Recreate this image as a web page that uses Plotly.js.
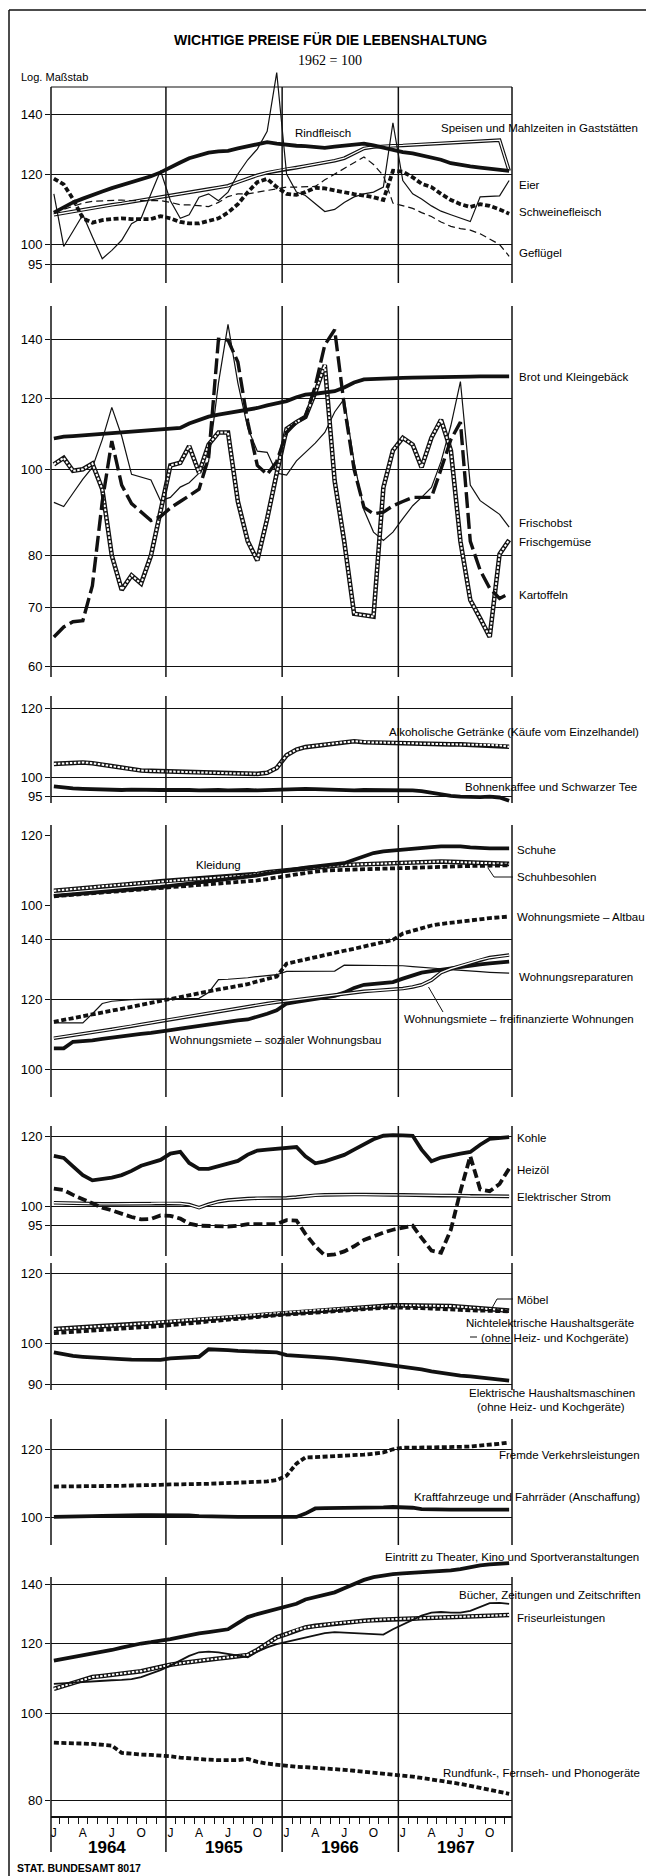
<!DOCTYPE html>
<html><head><meta charset="utf-8">
<script src="https://cdn.plot.ly/plotly-3.0.1.min.js"></script>
<style>html,body{margin:0;padding:0;background:#fff}</style>
</head><body><div id="chart" style="width:646px;height:1876px"></div>
<script>
// ---------- categories ----------
const years = [1964, 1965, 1966, 1967];
const monthLetters = ['J', 'A', 'J', 'O'];
const months = [];
years.forEach(y => { for (let m = 1; m <= 12; m++) months.push(y + '-' + String(m).padStart(2, '0') + '-15'); });

// ---------- series values (1962 = 100), Jan 1964 .. Dec 1967 ----------
// Panel 1
const rindfleisch = [108.6,110.0,111.5,112.6,113.5,114.7,115.7,116.6,117.4,118.2,119.3,120.5, 121.9,123.6,125.0,126.0,126.8,127.2,127.4,128.2,129.0,129.8,130.3,129.8, 129.3,129.1,129.0,128.7,128.4,128.8,129.2,129.5,129.8,129.2,128.4,127.6, 127.0,126.6,126.0,125.2,124.5,123.4,122.8,122.4,122.0,121.7,121.4,121.0];
const speisen = [108.0,108.5,108.9,109.4,109.8,110.3,110.8,111.2,111.7,112.1,112.6,113.0, 113.5,114.0,114.4,114.9,115.4,115.9,116.4,117.5,118.6,119.6,120.4,121.0, 121.6,122.0,122.5,123.0,123.6,124.2,125.0,126.5,128.2,128.7,129.0,129.1, 129.2,129.4,129.5,129.8,130.0,130.2,130.4,130.6,130.8,131.0,131.0,121.0];
const eier = [114.0,99.5,103.5,108.0,102.0,96.4,98.5,101.1,105.5,107.0,114.0,121.0, 112.0,107.0,108.0,113.0,114.0,112.0,114.5,120.0,124.5,128.0,134.0,156.0, 120.0,114.5,113.5,111.0,108.9,109.5,111.5,113.1,114.0,114.5,116.0,137.0, 118.0,114.0,112.5,110.5,109.0,108.0,107.0,106.1,113.1,113.2,113.4,118.0];
const schweinefleisch = [118.6,116.8,112.5,107.0,105.8,106.5,106.8,107.0,106.8,106.9,106.8,107.6, 107.0,106.0,105.6,105.6,106.2,107.0,108.6,111.0,114.5,117.5,118.5,116.0, 114.0,113.7,114.5,115.8,115.6,115.0,114.3,113.9,113.5,113.0,112.2,121.0, 120.7,119.0,117.0,116.0,114.0,112.2,111.0,110.2,111.0,110.5,109.5,108.3];
const gefluegel = [108.6,109.5,110.5,111.3,111.8,112.0,112.2,112.2,112.0,112.0,112.0,112.0, 111.5,110.8,110.8,110.6,110.3,111.5,113.2,114.0,114.0,114.5,115.0,115.5, 116.0,116.0,116.0,116.2,118.2,120.0,121.8,123.5,125.4,123.0,119.5,111.3, 110.5,109.8,108.6,107.5,106.0,104.8,104.2,103.8,102.8,101.5,100.0,97.0];
// Panel 2
const brot = [108.3,108.8,109.0,109.2,109.4,109.6,109.8,110.0,110.1,110.3,110.5,110.7, 110.9,111.3,112.6,113.7,114.6,115.2,115.7,116.1,116.5,117.2,118.0,118.6, 119.3,120.5,121.3,121.6,121.9,122.4,123.6,125.2,126.2,126.4,126.5,126.6, 126.7,126.8,126.8,126.9,127.0,127.0,127.1,127.1,127.2,127.2,127.1,127.2];
const frischobst = [91.8,90.8,94.0,97.5,100.5,108.0,117.4,109.0,98.7,98.0,97.3,92.2, 93.0,95.5,96.6,99.0,102.0,125.0,145.5,125.0,111.3,104.8,104.5,99.0, 98.5,102.2,104.5,107.0,110.0,116.0,120.0,102.0,90.0,85.0,83.2,85.0, 88.0,91.0,93.0,95.4,102.0,112.0,125.5,96.0,92.2,90.6,89.0,86.1];
const frischgemuese = [101.3,103.0,99.6,100.0,101.5,95.0,80.0,73.2,76.0,74.4,80.0,90.0, 101.0,101.7,106.2,99.1,106.6,110.0,110.0,92.0,83.0,79.0,88.0,99.0, 111.0,113.0,114.5,122.0,131.0,97.0,83.0,68.8,68.5,68.3,95.4,105.0, 108.5,106.6,100.5,108.5,113.7,105.0,83.0,71.3,68.0,64.8,80.3,83.3];
const kartoffeln = [64.8,66.5,67.4,67.6,74.0,92.0,107.6,96.0,91.5,89.5,87.6,88.5, 90.5,92.0,93.5,95.0,103.0,140.0,139.7,132.0,113.0,101.0,98.7,102.0, 110.0,113.0,114.5,124.0,138.0,143.5,118.0,100.0,90.6,89.1,89.5,91.0, 92.0,93.0,93.0,93.0,100.0,108.0,113.0,83.0,77.0,73.5,71.6,72.5];
// Panel 3
const alkohol = [103.6,103.8,104.0,104.0,103.8,103.4,102.9,102.5,102.1,101.8,101.7,101.6, 101.5,101.5,101.4,101.3,101.3,101.2,101.1,101.0,101.0,100.9,101.2,102.5, 106.0,107.6,108.3,108.7,109.0,109.3,109.7,110.0,109.7,109.6,109.6,109.6, 109.5,109.4,109.3,109.2,109.2,109.1,109.1,109.0,109.0,108.9,108.8,108.4];
const kaffee = [97.6,97.3,97.1,97.0,96.9,96.9,96.8,96.7,96.8,96.7,96.6,96.7, 96.7,96.8,96.7,96.6,96.7,96.7,96.6,96.7,96.7,96.6,96.7,96.7, 96.8,97.0,97.0,96.9,96.8,96.7,96.7,96.6,96.7,96.7,96.6,96.7, 96.7,96.6,96.4,96.0,95.5,95.2,95.0,94.9,94.9,95.0,94.8,94.0];
// Panel 4
const kleidung = [103.8,104.0,104.3,104.5,104.7,105.0,105.2,105.4,105.7,105.9,106.1,106.4, 106.6,106.7,106.9,107.0,107.2,107.4,107.5,107.7,108.0,108.4,108.9,109.2, 109.5,109.8,110.0,110.3,110.6,110.8,111.0,111.1,111.3,111.4,111.6,111.7, 111.8,111.8,111.9,112.0,112.0,111.9,111.8,111.7,111.6,111.5,111.4,111.3];
const schuhe = [102.4,102.6,102.8,103.0,103.3,103.5,103.7,103.9,104.1,104.3,104.5,104.8, 105.1,105.4,105.7,106.0,106.3,106.6,106.9,107.2,107.5,108.0,108.5,109.0, 109.4,109.8,110.2,110.5,110.8,111.1,111.5,112.5,113.6,114.5,115.0,115.3, 115.6,115.9,116.1,116.3,116.5,116.6,116.5,116.2,116.0,115.9,115.9,115.9];
const schuhbesohlen = [102.3,102.5,102.7,102.9,103.1,103.3,103.5,103.7,103.9,104.1,104.3,104.6, 104.8,104.9,105.1,105.3,105.5,105.6,105.8,106.0,106.2,106.6,107.0,107.5, 107.9,108.3,108.7,109.1,109.4,109.5,109.6,109.7,109.8,109.9,109.9,110.0, 110.1,110.2,110.3,110.4,110.5,110.6,110.6,110.7,110.7,110.8,110.8,110.9];
// Panel 5
const altbau = [113.1,113.7,114.2,114.8,115.3,115.9,116.4,117.0,117.6,118.2,118.8,119.6, 120.2,120.7,121.2,121.8,122.4,123.0,123.5,124.1,124.7,125.6,126.4,127.2, 131.5,132.3,133.1,133.9,134.6,135.3,136.0,136.7,137.5,138.3,139.1,139.9, 142.2,143.2,144.2,145.2,145.8,146.3,146.8,147.2,147.6,148.0,148.3,148.6];
const reparaturen = [112.8,112.8,112.8,112.8,115.5,118.6,119.3,119.6,119.8,119.9,120.0,120.0, 120.1,120.1,120.1,120.2,122.0,126.2,126.3,126.5,126.8,127.2,127.5,127.8, 128.9,128.9,128.9,128.9,128.9,129.0,131.0,131.0,131.0,131.0,131.0,131.0, 130.8,130.5,130.2,130.0,129.8,129.5,129.2,129.0,128.8,128.6,128.4,128.3];
const freifinanziert = [108.4,108.8,109.2,109.6,110.0,110.5,110.9,111.4,111.8,112.3,112.8,113.3, 113.8,114.3,114.7,115.2,115.7,116.2,116.7,117.2,117.7,118.2,118.6,119.0, 119.4,119.8,120.2,120.6,121.0,121.4,121.8,122.1,122.4,122.6,122.8,122.9, 123.3,123.8,124.5,126.0,128.5,129.8,130.8,131.8,132.8,133.6,134.1,134.5];
const sozial = [105.6,105.6,107.4,107.5,107.8,108.2,108.6,109.0,109.3,109.6,109.9,110.2, 110.7,111.1,111.5,111.9,112.3,112.7,113.1,113.5,113.8,114.5,115.5,116.5, 118.6,119.1,119.6,120.0,120.5,121.0,122.0,123.5,124.5,124.8,125.1,125.4, 126.5,127.7,128.5,129.0,129.5,130.0,130.5,131.0,131.3,131.6,131.9,132.2];
// Panel 6
const kohle = [114.1,113.5,111.0,108.5,107.0,107.4,107.8,108.5,109.7,111.2,112.2,112.9, 114.8,115.3,112.0,110.3,110.3,111.0,111.8,112.6,114.5,115.7,116.0,116.3, 116.5,116.8,114.0,111.9,112.5,113.5,114.4,116.0,117.5,119.2,120.3,120.5, 120.4,120.3,116.0,112.5,113.6,114.3,114.8,115.3,117.5,119.3,119.6,119.9];
const heizoel = [104.7,104.3,103.0,101.8,100.5,99.6,98.9,98.0,97.2,96.6,96.7,97.6, 97.5,96.8,95.5,95.0,94.9,94.8,94.8,95.0,95.4,95.4,95.4,95.4, 96.4,96.3,93.0,90.0,87.9,88.1,88.8,90.0,91.5,92.5,93.3,94.0, 94.5,95.0,92.0,89.0,88.5,94.0,104.0,114.0,104.5,104.0,106.0,110.4];
const strom = [100.9,100.8,100.7,100.7,100.6,100.6,100.6,100.6,100.7,100.7,100.7,100.8, 100.8,100.7,100.4,99.6,100.5,101.2,101.6,101.9,102.0,102.1,102.1,102.2, 102.2,102.4,102.7,102.9,103.0,103.1,103.1,103.1,103.1,103.0,103.0,103.0, 103.0,102.9,102.9,102.9,102.8,102.8,102.8,102.7,102.7,102.7,102.7,102.6];
// Panel 7
const moebel = [103.8,104.0,104.1,104.3,104.4,104.6,104.8,104.9,105.1,105.3,105.4,105.6, 105.8,106.0,106.2,106.4,106.7,106.9,107.1,107.3,107.5,107.7,107.9,108.1, 108.3,108.6,108.8,109.0,109.2,109.4,109.6,109.8,110.0,110.2,110.3,110.4, 110.4,110.4,110.3,110.3,110.2,110.2,110.0,109.8,109.5,109.3,109.1,108.9];
const nichtelektrisch = [102.7,102.9,103.0,103.2,103.4,103.6,103.7,103.9,104.1,104.3,104.4,104.6, 104.9,105.1,105.4,105.6,105.9,106.1,106.4,106.6,106.9,107.1,107.4,107.6, 107.8,108.0,108.2,108.4,108.6,108.8,108.9,109.1,109.3,109.5,109.7,109.8, 109.8,109.7,109.6,109.5,109.3,109.2,109.1,109.0,108.9,108.8,108.8,108.7];
const elektrisch = [97.7,97.2,96.8,96.6,96.4,96.3,96.1,96.0,95.9,95.8,95.7,95.8, 96.2,96.4,96.5,96.6,98.5,98.5,98.3,98.1,98.0,97.9,97.8,97.7, 97.0,96.9,96.8,96.6,96.4,96.2,96.0,95.7,95.4,95.1,94.8,94.5, 94.2,93.9,93.5,93.0,92.6,92.3,92.0,91.8,91.5,91.3,91.0,90.8];
// Panel 8
const verkehr = [108.6,108.6,108.6,108.6,108.7,108.7,108.8,108.8,108.9,108.9,109.0,109.1, 109.2,109.2,109.3,109.4,109.4,109.5,109.6,109.7,109.8,109.9,110.1,110.5, 111.8,115.5,117.4,117.5,117.6,117.8,118.0,118.1,118.3,118.6,119.0,120.0, 120.5,120.5,120.5,120.6,120.6,120.7,120.8,120.9,121.1,121.4,121.8,122.2];
const kfz = [100.1,100.1,100.2,100.3,100.3,100.4,100.5,100.6,100.6,100.6,100.6,100.6, 100.6,100.6,100.5,100.3,100.2,100.1,100.1,100.1,100.1,100.1,100.1,100.1, 100.1,100.1,101.0,102.4,102.5,102.5,102.6,102.6,102.6,102.7,102.7,102.8, 102.8,102.6,102.2,102.1,102.1,102.1,102.1,102.1,102.1,102.1,102.1,102.1];
// Panel 9
const eintritt = [114.8,115.3,115.9,116.5,117.0,117.5,118.0,118.7,119.4,120.0,120.4,120.8, 121.4,122.0,122.6,123.2,123.6,124.0,124.5,126.5,128.5,129.5,130.4,131.3, 132.0,133.0,134.5,135.3,135.9,137.0,138.5,140.0,141.5,142.5,143.1,143.6, 143.9,144.1,144.3,144.5,144.7,145.0,145.5,146.3,146.9,147.3,147.6,147.8];
const buecher = [108.1,108.3,108.5,108.6,108.8,109.0,109.1,109.2,109.4,110.0,111.0,112.0, 113.3,114.8,116.2,117.3,117.5,117.3,116.8,116.2,115.8,117.5,118.8,119.8, 120.5,121.2,121.8,122.5,123.3,123.6,123.4,123.2,123.0,122.8,122.8,124.5, 126.0,127.5,129.0,130.0,130.2,130.0,130.0,130.6,131.8,133.2,133.3,133.0];
const friseur = [106.7,107.5,108.3,109.2,110.0,110.3,110.6,110.9,111.3,111.7,112.3,113.0, 113.6,114.0,114.4,114.8,115.1,115.4,115.7,116.0,116.5,118.0,120.0,121.9, 123.0,124.3,125.1,125.6,126.0,126.4,126.7,127.0,127.3,127.5,127.7,127.8, 127.9,128.0,128.1,128.2,128.3,128.4,128.5,128.6,128.7,128.8,129.0,129.2];
const rundfunk = [92.8,92.8,92.7,92.6,92.5,92.4,92.1,90.4,90.1,90.0,89.9,89.8, 89.6,89.3,89.1,88.9,88.8,88.7,88.7,88.7,89.0,88.3,87.9,87.6, 87.4,87.2,87.1,87.0,86.9,86.7,86.5,86.3,86.1,85.9,85.8,85.6, 85.3,85.0,84.7,84.4,84.0,83.7,83.4,83.0,82.6,82.2,81.8,81.3];

// y tick labels per panel
const yTicks = [[95,100,120,140],[60,70,80,100,120,140],[95,100,120],[100,120],[100,120,140],[95,100,120],[90,100,120],[100,120],[80,100,120,140]];

// ---------- layout geometry (pixels) ----------
const W = 646, H = 1876;
const FONT = "'Liberation Sans','Roboto',Arial,sans-serif";
const px = v => v / W, py = v => 1 - v / H;
const XL = 51, XR = 512;
const XRANGE = ['1964-01-06', '1967-12-24'];
// top/bot: subplot domain; vtop/vbot: frame lines; a/b: two gridline anchors [value, pixel y]
const P = [
  {top: 62, bot: 283, vtop: 87, vbot: 283, a: [120, 174], b: [100, 244.5]},
  {top: 306, bot: 677, vtop: 306, vbot: 677, a: [140, 339.3], b: [60, 666.7]},
  {top: 696, bot: 803, vtop: 696, vbot: 803, a: [120, 708.3], b: [95, 796.7]},
  {top: 825, bot: 912, vtop: 825, vbot: 912, a: [120, 835], b: [100, 905]},
  {top: 912, bot: 1097, vtop: 912, vbot: 1097, a: [120, 999], b: [100, 1069.3]},
  {top: 1126, bot: 1262, vtop: 1126, vbot: 1256, a: [120, 1136.7], b: [95, 1225.7]},
  {top: 1263, bot: 1390, vtop: 1263, vbot: 1390, a: [120, 1273.3], b: [90, 1384]},
  {top: 1419, bot: 1545, vtop: 1419, vbot: 1545, a: [120, 1449.3], b: [100, 1517.3]},
  {top: 1555, bot: 1816, vtop: 1577, vbot: 1852, a: [140, 1584], b: [80, 1800]},
];

// line styles: list of strokes drawn on top of each other
const STY = {
  thick: [{w: 3.8}],
  thin: [{w: 1.2}],
  medium: [{w: 1.8}],
  dbl: [{w: 3.6}, {w: 1.3, c: '#fff'}],
  ladder: [{w: 4.6}, {w: 2.0, c: '#fff', d: '2.5px,1.5px'}],
  dashS: [{w: 3.8, d: '5px,2.5px'}],
  dashM: [{w: 3.8, d: '9px,4px'}],
  dashL: [{w: 3.4, d: '16px,5px'}],
  thinDash: [{w: 1.2, d: '7px,4px'}],
};

const series = [
  [1, speisen, 'dbl'], [1, gefluegel, 'thinDash'], [1, eier, 'thin'], [1, schweinefleisch, 'dashS'], [1, rindfleisch, 'thick'],
  [2, frischobst, 'thin'], [2, frischgemuese, 'ladder'], [2, kartoffeln, 'dashL'], [2, brot, 'thick'],
  [3, alkohol, 'ladder'], [3, kaffee, 'thick'],
  [4, kleidung, 'ladder'], [4, schuhbesohlen, 'dashS'], [4, schuhe, 'thick'],
  [5, reparaturen, 'thin'], [5, altbau, 'dashS'], [5, sozial, 'thick'], [5, freifinanziert, 'dbl'],
  [6, strom, 'dbl'], [6, heizoel, 'dashM'], [6, kohle, 'thick'],
  [7, moebel, 'ladder'], [7, nichtelektrisch, 'dashS'], [7, elektrisch, 'thick'],
  [8, verkehr, 'dashS'], [8, kfz, 'thick'],
  [9, friseur, 'ladder'], [9, buecher, 'medium'], [9, eintritt, 'thick'], [9, rundfunk, 'dashS'],
];

const sfx = n => (n === 1 ? '' : String(n));
const traces = [];
series.forEach(([p, ys, st]) => {
  STY[st].forEach(s => {
    traces.push({
      type: 'scatter', mode: 'lines', x: months, y: ys,
      xaxis: 'x' + sfx(p), yaxis: 'y' + sfx(p),
      line: {color: s.c || '#111', width: s.w, dash: s.d || 'solid', shape: 'linear'},
      hoverinfo: 'skip', showlegend: false
    });
  });
});

const layout = {
  width: W, height: H, margin: {l: 0, r: 0, t: 0, b: 0},
  paper_bgcolor: '#fff', plot_bgcolor: 'rgba(0,0,0,0)', showlegend: false,
  font: {family: FONT, color: '#000'}, shapes: [], annotations: []
};
const L = (x0, y0, x1, y1, w, extra) => Object.assign({type: 'line', xref: 'paper', yref: 'paper', x0, y0, x1, y1, line: {color: '#111', width: w}, layer: 'above'}, extra || {});

P.forEach((g, k) => {
  const n = k + 1, s = sfx(n);
  const K = (g.b[1] - g.a[1]) / (Math.log10(g.a[0]) - Math.log10(g.b[0]));
  const top = Math.log10(g.a[0]) + (g.a[1] - g.top) / K;
  const bot = Math.log10(g.b[0]) - (g.bot - g.b[1]) / K;
  const ticks = yTicks[k];
  layout['xaxis' + s] = {type: 'date', range: XRANGE, domain: [px(XL), px(XR)], anchor: 'y' + s,
    showgrid: false, zeroline: false, showline: false, showticklabels: false, ticks: '', fixedrange: true};
  layout['yaxis' + s] = {type: 'log', range: [bot, top], domain: [py(g.bot), py(g.top)], anchor: 'x' + s,
    tickmode: 'array', tickvals: ticks, ticktext: ticks.map(String),
    showgrid: n !== 4, gridcolor: '#111', gridwidth: 1, zeroline: false, showline: false,
    ticks: 'outside', ticklen: 5, tickcolor: '#111', tickwidth: 1,
    tickfont: {size: 13, family: FONT, color: '#000'}, fixedrange: true};
  // frame verticals
  const vb = g.vbot;
  layout.shapes.push(L(px(XL), py(g.vtop), px(XL), py(vb), 1.5));
  layout.shapes.push(L(px(XR), py(g.vtop), px(XR), py(vb), 1.5));
  years.slice(1).forEach(y => {
    layout.shapes.push(L(y + '-01-01', py(g.vtop), y + '-01-01', py(vb), 1.5, {xref: 'x' + s}));
  });
  if (n === 4) {
    // gridlines of this panel: 120 full width, 100 ends inside 1967
    layout.shapes.push(L(px(XL), Math.log10(120), px(XR), Math.log10(120), 1, {yref: 'y4'}));
    layout.shapes.push(L(px(XL), 2, px(435), 2, 1, {yref: 'y4'}));
  }
});
// top line of first panel
layout.shapes.push(L(px(XL), py(87), px(XR), py(87), 1.2));
// outer frame
layout.shapes.push(L(px(9), py(10), px(9), py(1876), 1.5));
layout.shapes.push(L(px(9), py(10), px(646), py(10), 1.5));

// bottom time axis (panel 9)
const tickDates = [], tickText = [], minorDates = [];
years.forEach(y => {
  ['01', '04', '07', '10'].forEach((m, j) => { tickDates.push(y + '-' + m + '-15'); tickText.push(monthLetters[j]); });
  for (let m = 2; m <= 12; m++) minorDates.push(y + '-' + String(m).padStart(2, '0') + '-01');
});
Object.assign(layout.xaxis9, {
  showticklabels: true, tickmode: 'array', tickvals: tickDates, ticktext: tickText, ticks: '',
  ticklabelstandoff: 5, tickfont: {size: 12, family: FONT, color: '#000'},
  showline: true, linecolor: '#111', linewidth: 1.5,
  minor: {tickmode: 'array', tickvals: minorDates, ticks: 'outside', ticklen: 6, tickcolor: '#111', tickwidth: 1}
});
years.forEach(y => layout.annotations.push({xref: 'x9', yref: 'paper', x: y + '-07-01', y: py(1847),
  text: '<b>' + y + '</b>', showarrow: false, font: {size: 17, family: FONT}, xanchor: 'center', yanchor: 'middle'}));

// titles
const A = (text, x, y, size, anchor, extra) => Object.assign({xref: 'paper', yref: 'paper', x: px(x), y: py(y), text,
  showarrow: false, xanchor: anchor || 'left', yanchor: 'middle', font: {size: size, family: FONT, color: '#000'}}, extra || {});
layout.annotations.push(A('<b>WICHTIGE PREISE FÜR DIE LEBENSHALTUNG</b>', 330, 40, 14, 'center'));
layout.annotations.push(A('1962 = 100', 330, 61, 14, 'center', {font: {size: 14, family: "'Liberation Serif',serif", color: '#000'}}));
layout.annotations.push(A('Log. Maßstab', 19, 77, 11));
layout.annotations.push(A('<b>STAT. BUNDESAMT 8017</b>', 15, 1868, 10.5));

// series labels: [text, x px, y px, anchor]
const labels = [
  ['Rindfleisch', 293, 133], ['Speisen und Mahlzeiten in Gaststätten', 640, 128, 'right'],
  ['Eier', 517, 185], ['Schweinefleisch', 517, 212], ['Geflügel', 517, 253],
  ['Brot und Kleingebäck', 517, 377], ['Frischobst', 517, 523], ['Frischgemüse', 517, 542], ['Kartoffeln', 517, 595],
  ['Alkoholische Getränke (Käufe vom Einzelhandel)', 641, 732, 'right'], ['Bohnenkaffee und Schwarzer Tee', 639, 787, 'right'],
  ['Kleidung', 194, 865], ['Schuhe', 515, 850], ['Schuhbesohlen', 515, 877],
  ['Wohnungsmiete – Altbau', 515, 917], ['Wohnungsreparaturen', 517, 977],
  ['Wohnungsmiete – freifinanzierte Wohnungen', 636, 1019, 'right'], ['Wohnungsmiete – sozialer Wohnungsbau', 167, 1040],
  ['Kohle', 515, 1138], ['Heizöl', 515, 1170], ['Elektrischer Strom', 515, 1197],
  ['Möbel', 515, 1300], ['Nichtelektrische Haushaltsgeräte', 550, 1323, 'center'], ['(ohne Heiz- und Kochgeräte)', 555, 1338, 'center'],
  ['Elektrische Haushaltsmaschinen', 552, 1393, 'center'], ['(ohne Heiz- und Kochgeräte)', 551, 1407, 'center'],
  ['Fremde Verkehrsleistungen', 642, 1455, 'right'], ['Kraftfahrzeuge und Fahrräder (Anschaffung)', 642, 1497, 'right'],
  ['Eintritt zu Theater, Kino und Sportveranstaltungen', 641, 1557, 'right'], ['Bücher, Zeitungen und Zeitschriften', 643, 1595, 'right'],
  ['Friseurleistungen', 515, 1618], ['Rundfunk-, Fernseh- und Phonogeräte', 642, 1773, 'right'],
];
labels.forEach(([t, x, y, an]) => layout.annotations.push(A(t, x, y, 11.5, an || 'left')));

// leader lines
[[488, 868, 494, 877], [494, 877, 513, 877], [428.5, 987, 443, 1012], [492, 1308, 497, 1299], [497, 1299, 513, 1299], [470, 1337, 477, 1337]]
  .forEach(([x0, y0, x1, y1]) => layout.shapes.push(L(px(x0), py(y0), px(x1), py(y1), 1)));

Plotly.newPlot('chart', traces, layout, {staticPlot: true});
</script>
</body></html>
